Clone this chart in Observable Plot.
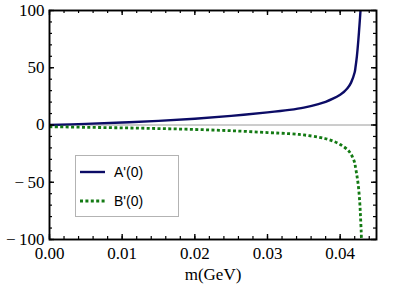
<!DOCTYPE html>
<html>
<head>
<meta charset="utf-8">
<script src="https://cdn.jsdelivr.net/npm/d3@7"></script>
<script src="https://cdn.jsdelivr.net/npm/@observablehq/plot@0.6"></script>
<style>
  body { margin: 0; background: #fff; }
  #wrap { position: relative; width: 415px; height: 292px; }
  #wrap svg text { font-family: "Liberation Serif", "Times New Roman", serif; }
  #legend { position: absolute; left: 75px; top: 155px; }
  #legend text { font-family: "Liberation Sans", Arial, sans-serif !important; }
</style>
</head>
<body>
<div id="wrap"></div>
<script>
// ---- data ----
const mA = [0, 0.005, 0.01, 0.015, 0.02, 0.025, 0.03, 0.033, 0.035, 0.037, 0.038, 0.039, 0.040, 0.0405, 0.041, 0.0415, 0.042, 0.0421, 0.0423, 0.0425, 0.0427, 0.0428];
const aVals = [0, 1.0, 2.2, 3.6, 5.5, 8.0, 11.0, 13.2, 15.2, 18.3, 20.3, 23, 26.5, 28.8, 32, 37, 46, 50, 60, 74, 91, 100];
const mB = [0, 0.005, 0.01, 0.015, 0.02, 0.025, 0.03, 0.033, 0.035, 0.037, 0.038, 0.039, 0.040, 0.041, 0.0415, 0.042, 0.0421, 0.0423, 0.0425, 0.0427, 0.0428, 0.0429, 0.04293];
const bVals = [-1.5, -2, -2.5, -3.1, -3.9, -5, -6.6, -7.6, -8.7, -10.6, -12, -14, -17, -21.5, -25.5, -33, -36.5, -44, -53, -68, -80, -94, -100];
const xMajor = [0, 0.01, 0.02, 0.03, 0.04];
const xMinor = d3.range(0, 0.0451, 0.002);
const yMajor = [-100, -50, 0, 50, 100];
const yMinor = d3.range(-100, 101, 10);
const seriesNames = ["A'(0)", "B'(0)"];
const xLabel = "m(GeV)";

// ---- styles ----
const colA = "#0c0c66";
const colB = "#137a13";
const serif = "'Liberation Serif', 'Times New Roman', serif";
const W = 415, H = 292, padL = 49, padR = 39, padT = 10, padB = 53;
const plotW = W - padL - padR, plotH = H - padT - padB;

const dataA = mA.map((m, i) => ({m, v: aVals[i]}));
const dataB = mB.map((m, i) => ({m, v: bVals[i]}));

const fmtY = d => d < 0 ? "\u2212\u2009" + (-d) : String(d);

const chart = Plot.plot({
  width: W, height: H,
  marginLeft: padL, marginRight: padR, marginTop: padT, marginBottom: padB,
  style: {fontFamily: serif, fontSize: "17px", color: "#000", background: "#fff"},
  x: {domain: [0, 0.045]},
  y: {domain: [-100, 100]},
  marks: [
    Plot.ruleY([0], {stroke: "#9a9a9a", strokeWidth: 1}),
    Plot.line(dataA, {x: "m", y: "v", stroke: colA, strokeWidth: 2.4, curve: "catmull-rom", clip: true}),
    Plot.line(dataB, {x: "m", y: "v", stroke: colB, strokeWidth: 2.8, strokeDasharray: "3,2.4", strokeLinecap: "butt", curve: "catmull-rom", clip: true}),
    // inward ticks: bottom / top
    Plot.tickX(xMinor, {x: d => d, insetTop: plotH - 3, stroke: "#000", strokeWidth: 1.2}),
    Plot.tickX(xMinor, {x: d => d, insetBottom: plotH - 3, stroke: "#000", strokeWidth: 1.2}),
    Plot.tickX(xMajor, {x: d => d, insetTop: plotH - 5, stroke: "#000", strokeWidth: 1.4}),
    Plot.tickX(xMajor, {x: d => d, insetBottom: plotH - 5, stroke: "#000", strokeWidth: 1.4}),
    // inward ticks: left / right
    Plot.tickY(yMinor, {y: d => d, insetRight: plotW - 3, stroke: "#000", strokeWidth: 1.2}),
    Plot.tickY(yMinor, {y: d => d, insetLeft: plotW - 3, stroke: "#000", strokeWidth: 1.2}),
    Plot.tickY(yMajor, {y: d => d, insetRight: plotW - 5, stroke: "#000", strokeWidth: 1.4}),
    Plot.tickY(yMajor, {y: d => d, insetLeft: plotW - 5, stroke: "#000", strokeWidth: 1.4}),
    Plot.frame({stroke: "#000", strokeWidth: 1.9}),
    Plot.axisX({ticks: xMajor, tickFormat: d3.format(".2f"), tickSize: 0, tickPadding: 7, fontFamily: serif, fontSize: 17,
      label: xLabel, labelAnchor: "center", labelArrow: "none", labelOffset: 40}),
    Plot.axisY({ticks: yMajor, tickFormat: fmtY, tickSize: 0, tickPadding: 5, fontFamily: serif, fontSize: 17, label: null})
  ]
});

const wrap = document.getElementById("wrap");
wrap.appendChild(chart);

// ---- legend ----
const ns = "http://www.w3.org/2000/svg";
const lg = document.createElementNS(ns, "svg");
lg.setAttribute("id", "legend");
lg.setAttribute("width", 104);
lg.setAttribute("height", 62);
lg.innerHTML = `
  <rect x="0.5" y="0.5" width="103" height="61" fill="#fff" stroke="#b3b3b3" stroke-width="1"/>
  <line x1="5" x2="30" y1="17" y2="17" stroke="${colA}" stroke-width="2.4"/>
  <line x1="5" x2="30" y1="46" y2="46" stroke="${colB}" stroke-width="2.8" stroke-dasharray="3,2.4"/>
  <text x="39" y="17" dy="0.36em" font-size="14px">${seriesNames[0]}</text>
  <text x="39" y="46" dy="0.36em" font-size="14px">${seriesNames[1]}</text>`;
wrap.appendChild(lg);
</script>
</body>
</html>
